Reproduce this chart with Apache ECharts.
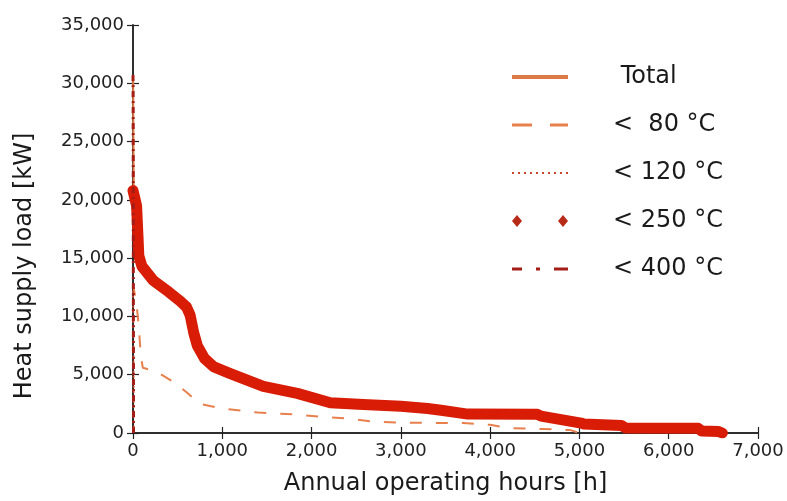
<!DOCTYPE html>
<html>
<head>
<meta charset="utf-8">
<script src="https://cdn.jsdelivr.net/npm/echarts@6/dist/echarts.min.js"></script>
<style>
    html, body { margin: 0; padding: 0; background: #fff; }
    #chart { width: 787px; height: 501px; }
</style>
</head>
<body>
<div id="chart"></div>
<script>
// values, [hours, kW]
const seriesNames = ["Total", "<  80 °C", "< 120 °C", "< 250 °C", "< 400 °C"];

const loadTotal = [
    [0, 30700], [2, 29800], [4, 26000], [8, 21000], [40, 19500], [55, 17000], [65, 15200],
    [100, 14300], [225, 13100], [400, 12100], [530, 11300], [600, 10800], [640, 10100],
    [680, 8600], [720, 7500], [800, 6400], [900, 5700], [1090, 5100], [1460, 4000],
    [1840, 3400], [2210, 2600], [2580, 2450], [3000, 2300], [3300, 2100], [3450, 1950],
    [3750, 1620], [4530, 1600], [4570, 1450], [5020, 850], [5050, 780], [5470, 650],
    [5520, 420], [6330, 400], [6370, 170], [6560, 120], [6600, 0]
];
const load80 = [
    [0, 12800], [40, 11000], [60, 9500], [90, 6500], [110, 5600], [200, 5400], [300, 5100],
    [450, 4400], [600, 3500], [750, 2500], [1000, 2100], [1400, 1750], [1800, 1600],
    [2100, 1400], [2400, 1250], [2660, 1000], [3000, 880], [3700, 850], [3860, 760],
    [4000, 700], [4200, 420], [4600, 340], [4900, 250], [5000, 0]
];
const load120 = [[0, 12200], [4, 9000], [8, 0]];
const load250 = [
    [0, 20800], [40, 19500], [55, 17000], [65, 15200], [100, 14300], [225, 13100],
    [400, 12100], [530, 11300], [600, 10800], [640, 10100], [680, 8600], [720, 7500],
    [800, 6400], [900, 5700], [1090, 5100], [1460, 4000], [1840, 3400], [2210, 2600],
    [2580, 2450], [3000, 2300], [3300, 2100], [3450, 1950], [3750, 1620], [4530, 1600],
    [4570, 1450], [5020, 850], [5050, 780], [5470, 650], [5520, 420], [6330, 400],
    [6370, 170], [6560, 120], [6600, 0]
];
const load400 = [[0, 30700], [1, 29800], [2, 26000], [4, 11800], [6, 0]];

const c_total = "#dc7a45";
const c_80 = "#e8804e";
const c_120 = "#c8452a";
const c_250 = "#d81c06";
const c_250_legend = "#b82a18";
const c_400 = "#a41c16";

const font = "DejaVu Sans";

// legend samples, all 56 wide so they are not rescaled
let dots = "";
for (let k = 0; k < 10; k++) {
    dots += `M${k * 6},0h2v2h-2z `;
}
const icon_total = "path://M0,0h56v4h-56z";
const icon_80 = "path://M0,0h20v3h-20z M38,0h18v3h-18z";
const icon_120 = "path://" + dots.trim();
const icon_250 = "path://M0,6L5,0L10,6L5,12Z M46,6L51,0L56,6L51,12Z";
const icon_400 = "path://M0,0h10v3h-10z M24,0h4v3h-4z M42,0h14v3h-14z";

let chart = echarts.init(document.getElementById("chart"), null, { renderer: "canvas" });

let axis_common = {
    type: "value",
    axisLine: { show: true, lineStyle: { color: "#222", width: 1.5 } },
    axisTick: { show: true, inside: true, length: 6, lineStyle: { color: "#222", width: 1.2 } },
    splitLine: { show: false },
};

let option = {
    animation: false,
    backgroundColor: "#fff",
    grid: { left: 133, right: 29, top: 25, bottom: 64 },
    legend: {
        orient: "vertical",
        left: 507,
        top: 60,
        itemWidth: 56,
        itemHeight: 12,
        itemGap: 24,
        selectedMode: false,
        textStyle: {
            fontFamily: font, fontSize: 24, color: "#1a1a1a",
            lineHeight: 24, padding: [0, 0, 0, 40],
        },
        formatter: (name) => name === "Total" ? " Total" : name,
        data: [
            { name: seriesNames[0], icon: icon_total, itemStyle: { color: c_total } },
            { name: seriesNames[1], icon: icon_80, itemStyle: { color: c_80 } },
            { name: seriesNames[2], icon: icon_120, itemStyle: { color: c_120 } },
            { name: seriesNames[3], icon: icon_250, itemStyle: { color: c_250_legend } },
            { name: seriesNames[4], icon: icon_400, itemStyle: { color: c_400 } },
        ],
    },
    xAxis: [
        {
            ...axis_common,
            position: "bottom",
            min: 0, max: 7000, interval: 1000,
            name: "Annual operating hours [h]",
            nameLocation: "middle",
            nameGap: 39,
            nameTextStyle: { fontFamily: font, fontSize: 24, color: "#1a1a1a" },
            axisLabel: { fontFamily: font, fontSize: 18, color: "#222", margin: 9 },
        },
        {
            ...axis_common,
            position: "top",
            min: 0, max: 7000, interval: 1000,
            axisLabel: { show: false },
        },
    ],
    yAxis: [
        {
            ...axis_common,
            position: "left",
            min: 0, max: 35000, interval: 5000,
            name: "Heat supply load [kW]",
            nameLocation: "middle",
            nameGap: 96,
            nameTextStyle: {
                fontFamily: font, fontSize: 24, color: "#1a1a1a",
                padding: [0, 74, 0, 0],
            },
            axisLabel: { fontFamily: font, fontSize: 18, color: "#222", margin: 9 },
        },
        {
            ...axis_common,
            position: "right",
            min: 0, max: 35000, interval: 5000,
            axisLabel: { show: false },
        },
    ],
    series: [
        {
            name: seriesNames[0],
            type: "line",
            symbol: "none",
            z: 2,
            color: c_total,
            lineStyle: { width: 2, color: c_total },
            data: loadTotal,
        },
        {
            name: seriesNames[1],
            type: "line",
            symbol: "none",
            z: 3,
            color: c_80,
            lineStyle: { width: 2, color: c_80, type: [12, 14] },
            data: load80,
        },
        {
            name: seriesNames[2],
            type: "line",
            symbol: "none",
            z: 3,
            color: c_120,
            lineStyle: { width: 2, color: c_120, type: [2, 3] },
            data: load120,
        },
        {
            // the thick band: dense diamond markers in the original
            name: seriesNames[3],
            type: "line",
            symbol: "none",
            z: 4,
            color: c_250,
            lineStyle: { width: 11, color: c_250, join: "round", cap: "round" },
            data: load250,
        },
        {
            name: seriesNames[4],
            type: "line",
            symbol: "none",
            z: 5,
            color: c_400,
            lineStyle: { width: 3, color: c_400, type: [6, 4, 2, 4] },
            data: load400,
        },
    ],
};

chart.setOption(option);
</script>
</body>
</html>
